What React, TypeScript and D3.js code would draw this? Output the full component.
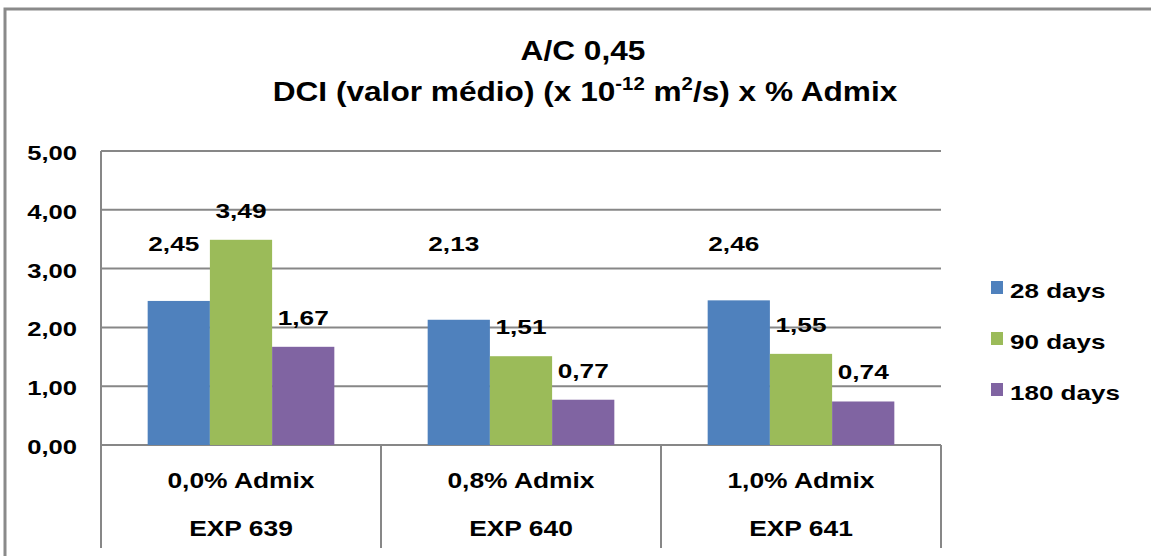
import React from 'react';
import * as d3 from 'd3';

// categories (two level axis) and series
const admix = ['0,0% Admix', '0,8% Admix', '1,0% Admix'];
const exps = ['EXP 639', 'EXP 640', 'EXP 641'];
const seriesNames = ['28 days', '90 days', '180 days'];
const days28 = [2.45, 2.13, 2.46];
const days90 = [3.49, 1.51, 1.55];
const days180 = [1.67, 0.77, 0.74];
const yTicks = [0, 1, 2, 3, 4, 5];
const colors = ['#4F81BD', '#9BBB59', '#8064A2'];

const W = 1151;
const H = 556;
const FONT = "'Liberation Sans', Arial, sans-serif";

const fmt = (v: number) => d3.format('.2f')(v).replace('.', ',');

// the original text is a bit stretched sideways, sx handles that
const T = ({ x, y, size = 21, sx = 1.25, anchor = 'middle', children }: any) => (
  <text
    transform={`translate(${x},${y}) scale(${sx},1)`}
    textAnchor={anchor}
    fontSize={size}
    fontWeight="bold"
    fontFamily={FONT}
    fill="#000"
  >
    {children}
  </text>
);

const App = () => {
  const plot = { left: 101, right: 941, top: 151, bottom: 445 };
  const series = [days28, days90, days180];

  const x = d3.scaleBand().domain(admix).range([plot.left, plot.right]).padding(0);
  const xInner = d3
    .scaleBand()
    .domain(seriesNames)
    .range([0, x.bandwidth()])
    .paddingInner(0)
    .paddingOuter(0.75);
  const y = d3.scaleLinear().domain([0, 5]).range([plot.bottom, plot.top]);

  // 28-day labels sit on one common row above the tallest blue bar
  const blueLabelY = y(d3.max(days28) as number) - 49;

  const bounds = [...admix.map((c) => x(c) as number), plot.right];
  const grid = '#878787';

  return (
    <svg width={W} height={H} style={{ position: 'absolute', left: 0, top: 0, background: '#fff' }}>
      <rect x={5} y={9} width={1300} height={700} fill="#fff" stroke="#8a8a8a" strokeWidth={3} />

      {/* title */}
      <T x={583} y={60} size={28} sx={1.13}>A/C 0,45</T>
      <T x={585} y={101} size={28} sx={1.13}>
        DCI (valor médio) (x 10
        <tspan fontSize={18} dy={-11}>-12</tspan>
        <tspan dy={11}> m</tspan>
        <tspan fontSize={18} dy={-11}>2</tspan>
        <tspan dy={11}>/s) x % Admix</tspan>
      </T>

      {/* grid + y axis */}
      {yTicks.map((t) => (
        <g key={t}>
          <line x1={plot.left} x2={plot.right} y1={y(t)} y2={y(t)} stroke={grid} strokeWidth={2} />
          <T x={77} y={y(t) + 9} size={20.5} anchor="end">
            {fmt(t)}
          </T>
        </g>
      ))}
      <line x1={plot.left} x2={plot.left} y1={plot.top} y2={plot.bottom} stroke={grid} strokeWidth={2} />

      {/* bars */}
      {admix.map((c, ci) => (
        <g key={c} transform={`translate(${x(c)},0)`}>
          {seriesNames.map((s, si) => {
            const v = series[si][ci];
            const bx = xInner(s) as number;
            return (
              <rect
                key={s}
                x={bx}
                y={y(v)}
                width={xInner.bandwidth()}
                height={y(0) - y(v)}
                fill={colors[si]}
              />
            );
          })}
          {seriesNames.map((s, si) => {
            const v = series[si][ci];
            const cx = (xInner(s) as number) + xInner.bandwidth() / 2;
            const ly = si === 0 ? blueLabelY : y(v) - 22;
            return (
              <T key={s} x={si === 0 ? cx - 5 : cx} y={ly}>
                {fmt(v)}
              </T>
            );
          })}
        </g>
      ))}

      {/* category axis */}
      {bounds.map((b, i) => (
        <line key={i} x1={b} x2={b} y1={plot.bottom} y2={548} stroke={grid} strokeWidth={2} />
      ))}
      {admix.map((c, ci) => (
        <g key={c}>
          <T x={(x(c) as number) + x.bandwidth() / 2} y={488} size={22} sx={1.2}>{c}</T>
          <T x={(x(c) as number) + x.bandwidth() / 2} y={536} size={22} sx={1.2}>{exps[ci]}</T>
        </g>
      ))}

      {/* legend */}
      {seriesNames.map((s, i) => (
        <g key={s}>
          <rect x={991} y={281 + i * 51} width={12} height={13} fill={colors[i]} />
          <T x={1010} y={298 + i * 51} size={20} sx={1.3} anchor="start">
            {s}
          </T>
        </g>
      ))}
    </svg>
  );
};

export default App;
